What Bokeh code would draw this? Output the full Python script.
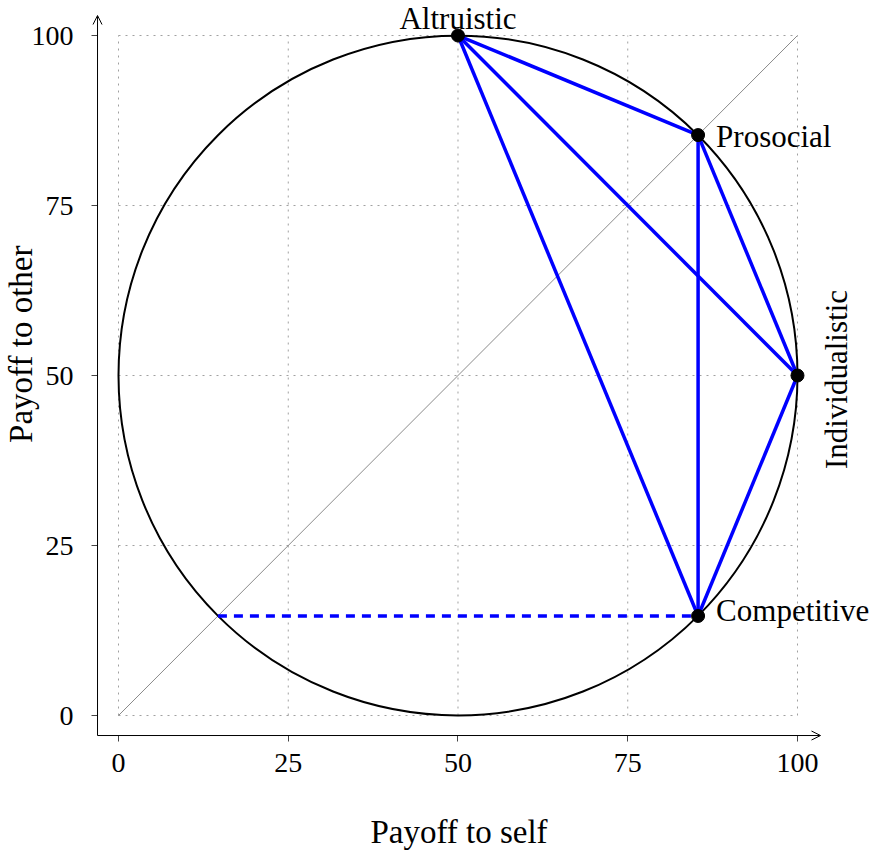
import math
from bokeh.plotting import figure
from bokeh.models import Label, Arrow, OpenHead, Range1d, FixedTicker
from bokeh.embed import file_html
from bokeh.resources import INLINE

# ---- data ----
names = ["Altruistic", "Prosocial", "Individualistic", "Competitive"]
pts_x = [50, 85.36, 100, 85.36]
pts_y = [100, 85.36, 50, 14.64]
edges = [(0, 1), (0, 2), (0, 3), (1, 2), (1, 3), (2, 3)]
dash_x = [14.64, 85.36]
dash_y = [14.64, 14.64]
diag_x = [0, 100]
diag_y = [0, 100]
circle_cx = [50]
circle_cy = [50]
circle_d = [100]
ticks = [0, 25, 50, 75, 100]
x_title = "Payoff to self"
y_title = "Payoff to other"

FONT = "Liberation Serif"
# the frame covers the whole canvas; axes are placed at fixed locations
xr = Range1d(-17.38, 110.90)
yr = Range1d(-20.29, 105.15)
AX_X = -3.09      # where the y axis sits (data x)
AX_Y = -2.94      # where the x axis sits (data y)
X_END = 103.39
Y_END = 102.94
Y_TITLE_POS = 54.6

p = figure(frame_width=871, frame_height=853, x_range=xr, y_range=yr,
           output_backend="svg", toolbar_location=None,
           min_border_left=0, min_border_top=0, min_border_right=0, min_border_bottom=0)
p.outline_line_color = None
p.background_fill_color = "white"
p.xgrid.visible = False
p.ygrid.visible = False

xa, ya = p.xaxis[0], p.yaxis[0]
xa.fixed_location = AX_Y
ya.fixed_location = AX_X
xa.bounds = (AX_X, X_END)
ya.bounds = (AX_Y, Y_END)
for ax in (xa, ya):
    ax.ticker = FixedTicker(ticks=ticks)
    ax.major_label_text_font = FONT
    ax.major_label_text_font_size = "28px"
    ax.major_label_text_color = "black"
    ax.axis_label_text_font = FONT
    ax.axis_label_text_font_size = "33px"
    ax.axis_label_text_font_style = "normal"
    ax.axis_label_text_color = "black"
    ax.axis_line_color = None
    ax.major_tick_out = 6
    ax.major_tick_in = 0
    ax.major_tick_line_color = "#444444"
    ax.minor_tick_line_color = None

xa.axis_label = x_title
xa.major_label_standoff = 12
ya.major_label_standoff = 18
xa.axis_label_standoff = 39

# y-axis title (placed as a label so it can sit where the reference has it)
p.add_layout(Label(x=AX_X, y=Y_TITLE_POS, text=y_title, text_font=FONT, text_font_size="33px",
                   text_color="black", angle=math.pi / 2, x_offset=-77,
                   text_align="center", text_baseline="alphabetic"))

# dotted grid inside [0,100] x [0,100]
gx = [[t, t] for t in ticks] + [[ticks[0], ticks[-1]] for t in ticks]
gy = [[ticks[0], ticks[-1]] for t in ticks] + [[t, t] for t in ticks]
p.multi_line(gx, gy, line_color="#a0a0a0", line_dash="2 5", line_width=1)

# diagonal
p.line(diag_x, diag_y, line_color="#8a8a8a", line_width=1)
# circle
p.ellipse(x=circle_cx, y=circle_cy, width=circle_d, height=circle_d,
          fill_color=None, line_color="black", line_width=2)
# dashed
p.line(dash_x, dash_y, line_color="#0000ff", line_width=3.5, line_dash="9 7")
# edges
p.multi_line([[pts_x[a], pts_x[b]] for a, b in edges],
             [[pts_y[a], pts_y[b]] for a, b in edges],
             line_color="#0000ff", line_width=3.5)
# points
p.scatter(pts_x, pts_y, size=13, fill_color="black", line_color="black")

# labels
offs = {
    "Altruistic": dict(x_offset=0, y_offset=17, text_align="center", text_baseline="alphabetic", angle=0),
    "Prosocial": dict(x_offset=18, y_offset=-1, text_align="left", text_baseline="middle", angle=0),
    "Individualistic": dict(x_offset=39, y_offset=-4, text_align="center", text_baseline="middle", angle=math.pi / 2),
    "Competitive": dict(x_offset=18, y_offset=5, text_align="left", text_baseline="middle", angle=0),
}
for n, x, y in zip(names, pts_x, pts_y):
    p.add_layout(Label(x=x, y=y, text=n, text_font=FONT, text_font_size="31px",
                       text_color="black", **offs[n]))

# axis lines with arrow heads
p.add_layout(Arrow(end=OpenHead(size=9, line_width=1, line_color="black"),
                   x_start=AX_X, y_start=AX_Y, x_end=X_END, y_end=AX_Y,
                   line_width=1, line_color="black"))
p.add_layout(Arrow(end=OpenHead(size=9, line_width=1, line_color="black"),
                   x_start=AX_X, y_start=AX_Y, x_end=AX_X, y_end=Y_END,
                   line_width=1, line_color="black"))

open("out.html", "w").write(file_html(p, INLINE))
